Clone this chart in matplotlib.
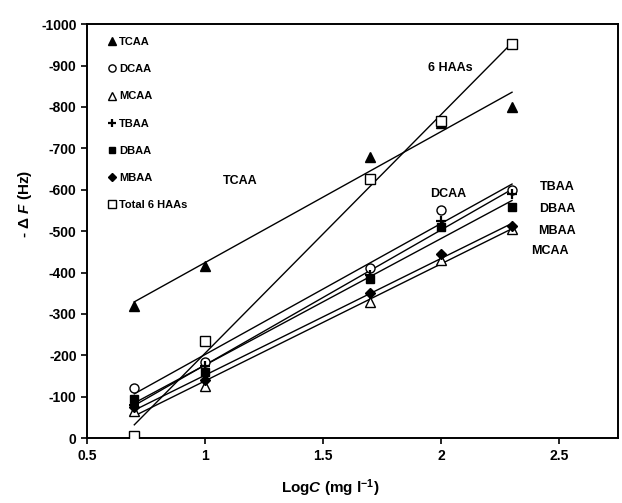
import matplotlib
matplotlib.use("Agg")
import matplotlib.pyplot as plt
import numpy as np

DPI = 100

plt.rcParams['font.family'] = ['Liberation Sans', 'DejaVu Sans']
plt.rcParams['font.weight'] = 'bold'
plt.rcParams['axes.unicode_minus'] = False
plt.rcParams['mathtext.fontset'] = 'custom'
plt.rcParams['mathtext.rm'] = 'Liberation Sans:bold'
plt.rcParams['mathtext.it'] = 'Liberation Sans:style=italic:weight=bold'
plt.rcParams['mathtext.bf'] = 'Liberation Sans:bold'

# log concentration
log_c = [0.7, 1.0, 1.7, 2.0, 2.3]

tcaa = [-320, -415, -680, -760, -800]
dcaa = [-120, -185, -410, -550, -600]
mcaa = [-65, -125, -330, -430, -505]
tbaa = [-80, -175, -395, -525, -590]
dbaa = [-95, -160, -385, -510, -558]
mbaa = [-75, -140, -350, -445, -512]
total = [-5, -235, -625, -765, -953]

series_names = ['TCAA', 'DCAA', 'MCAA', 'TBAA', 'DBAA', 'MBAA', 'Total 6 HAAs']
series_vals = [tcaa, dcaa, mcaa, tbaa, dbaa, mbaa, total]
markers = [
    dict(marker='^', mfc='black', mec='black', ms=6.5),
    dict(marker='o', mfc='white', mec='black', ms=6.5, mew=1.0),
    dict(marker='^', mfc='white', mec='black', ms=6.5, mew=1.0),
    dict(marker='+', mfc='black', mec='black', ms=7.5, mew=1.6),
    dict(marker='s', mfc='black', mec='black', ms=6),
    dict(marker='D', mfc='black', mec='black', ms=5),
    dict(marker='s', mfc='white', mec='black', ms=6.5, mew=1.0),
]

fig = plt.figure(figsize=(622 / DPI, 503 / DPI), dpi=DPI)
ax = fig.add_axes([0.140, 0.129, 0.854, 0.823])

x = np.array(log_c)
for name, vals, mk in zip(series_names, series_vals, markers):
    # regression line over the measured range
    k, b = np.polyfit(x, vals, 1)
    ax.plot([x[0], x[-1]], [k * x[0] + b, k * x[-1] + b], color='black', lw=1.0, zorder=2)
    ax.plot(x, vals, ls='none', label=name, zorder=3, **mk)

ax.set_xlim(0.5, 2.75)
ax.set_ylim(0, -1000)
ax.set_xticks([0.5, 1, 1.5, 2, 2.5])
ax.set_xticklabels(['0.5', '1', '1.5', '2', '2.5'])
ax.set_yticks(np.arange(0, -1001, -100))
ax.tick_params(labelsize=10, direction='out', length=4, width=1.2)
for s in ax.spines.values():
    s.set_linewidth(1.4)

ax.set_xlabel(r'Log$\it{C}$ (mg l$^{-1}$)', fontsize=11, fontweight='bold')
ax.xaxis.set_label_coords(0.458, -0.095)
ax.set_ylabel(r'- $\Delta$ $\it{F}$ (Hz)', fontsize=11, fontweight='bold')
ax.yaxis.set_label_coords(-0.100, 0.565)

ax.legend(loc='upper left', bbox_to_anchor=(0.025, 0.985), frameon=False,
          fontsize=8, handletextpad=0.2, labelspacing=1.55, handlelength=0.9,
          markerscale=0.8, borderaxespad=0.2)

for txt, tx, ty in [('6 HAAs', 2.04, -894), ('TCAA', 1.15, -622), ('DCAA', 2.03, -590),
                    ('TBAA', 2.49, -607), ('DBAA', 2.49, -554), ('MBAA', 2.49, -500),
                    ('MCAA', 2.46, -452)]:
    ax.text(tx, ty, txt, ha='center', va='center', fontsize=9, fontweight='bold')

fig.savefig('out.png', dpi=DPI)
